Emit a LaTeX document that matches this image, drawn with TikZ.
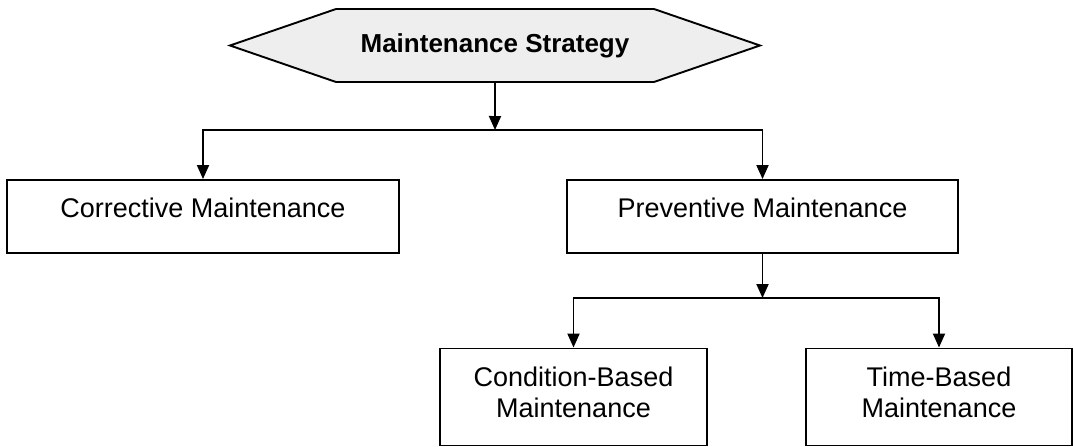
\documentclass[tikz,border=0pt]{standalone}
\usepackage{fontspec}
\setmainfont{Liberation Sans}
\usetikzlibrary{arrows.meta,shapes.symbols}
\begin{document}
\begin{tikzpicture}[x=1pt,y=-1pt,
    line width=1.9pt,
    arr/.style={-{Triangle[length=14pt,width=12pt]}},
    box/.style={draw,rectangle,inner sep=0pt,font=\fontsize{27}{31}\selectfont},
    onebox/.style={box,minimum width=392pt,minimum height=73pt,text height=19.5pt,text depth=18pt},
    twobox/.style={box,minimum width=267pt,minimum height=97pt,align=center,text depth=10pt},
    head/.style={draw,signal,signal to=west and east,signal pointer angle=38,
      fill=gray!13,inner sep=0pt,minimum width=530pt,minimum height=73pt,
      font=\fontsize{26}{30}\selectfont\bfseries}]
  \useasboundingbox (0,0) rectangle (1074,447);
  \node[head] (strategy) at (495,45.5) {Maintenance Strategy};
  \node[onebox] (corrective) at (203,216.5) {Corrective Maintenance};
  \node[onebox,minimum width=391pt] (preventive) at (762.5,216.5) {Preventive Maintenance};
  \node[twobox] (condition) at (573.5,397) {Condition-Based\\Maintenance};
  \node[twobox,minimum width=266pt] (timebased) at (939,397) {Time-Based\\Maintenance};
  \coordinate (split1) at (495,130);
  \coordinate (split2) at (762.5,298);
  \draw[arr] (strategy) -- (split1);
  \draw[arr] (split1) -| (corrective);
  \draw[arr] (split1) -| (preventive);
  \draw[arr] (preventive) -- (split2);
  \draw[arr] (split2) -| (condition);
  \draw[arr] (split2) -| (timebased);
\end{tikzpicture}
\end{document}
